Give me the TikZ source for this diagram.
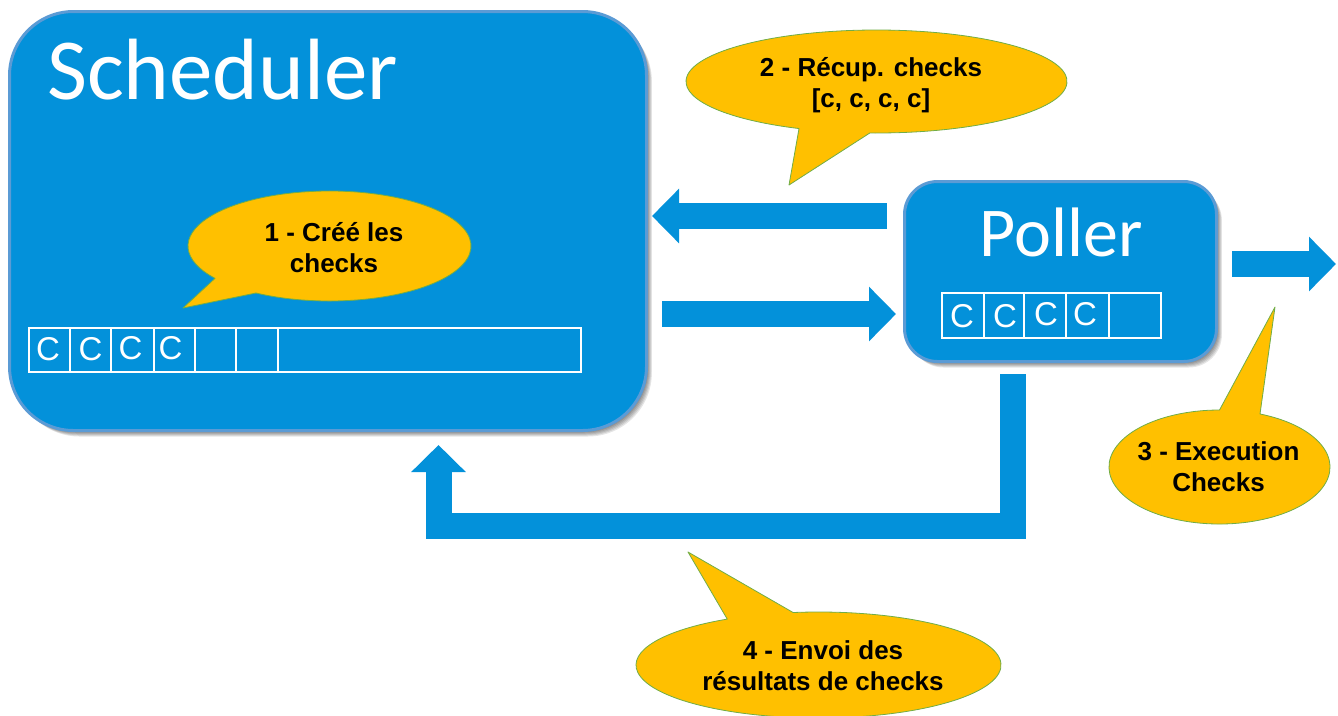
\documentclass[tikz,border=0pt]{standalone}
\usepackage{fontspec}
\setmainfont{Liberation Sans}
\newfontfamily\carl{Carlito}
\usetikzlibrary{arrows.meta}
\definecolor{boxblue}{HTML}{0391DA}
\definecolor{edgeblue}{HTML}{5B9BD5}
\definecolor{bubblefill}{HTML}{FFC000}
\definecolor{bubbleedge}{HTML}{70AD47}
\tikzset{
  panel/.style={draw=edgeblue,fill=boxblue,line width=3pt,anchor=north west,inner sep=0pt,outer sep=0pt},
  shadelayer/.style={fill=black,fill opacity=0.1,draw=none},
  cell/.style={draw=white,line width=2pt,anchor=north west,inner sep=0pt,outer sep=0pt,minimum height=44pt},
  cellc/.style={text=white,inner sep=0pt,font=\fontsize{33}{33}\selectfont},
  bubble/.style={fill=bubblefill,draw=bubbleedge,line width=0.8pt,line join=round},
  bubbletext/.style={align=center,inner sep=0pt,text=black,font=\fontsize{26}{31}\selectfont\bfseries},
  blockarrow/.style={draw=boxblue,line width=26pt,line join=miter,-{Triangle[length=27pt,width=53pt,fill=boxblue]}}
}
\begin{document}
\begin{tikzpicture}[x=1pt,y=-1pt]
\useasboundingbox (0,0) rectangle (1338,715);
% shadows
\foreach \d in {1,2,3,4,5,6}{
  \fill[shadelayer,rounded corners=64pt] (9.5+\d,11.5+\d) rectangle (646.5+\d*0.9,430.5+\d);
  \fill[shadelayer,rounded corners=33pt] (904.5+\d,181.5+\d) rectangle (1216.5+\d*0.9,361.5+\d);
}
% panels
\node[panel,rounded corners=64pt,minimum width=637pt,minimum height=419pt] (sched) at (9.5,11.5) {};
\node[panel,rounded corners=33pt,minimum width=312pt,minimum height=180pt] (poll) at (904.5,181.5) {};
\node[anchor=base west,inner sep=0pt,text=white,font=\carl\fontsize{87}{87}\selectfont] (schedt) at (47,99) {Scheduler};
\node[anchor=base,inner sep=0pt,text=white,font=\carl\fontsize{70}{70}\selectfont] (pollt) at (1061,256) {Poller};
% scheduler queue
\foreach \n/\a/\b in {1/29/69.5,2/69.5/110.5,3/110.5/153.5,4/153.5/195,5/195/236,6/236/278,7/278/581}{
  \pgfmathsetmacro\w{\b-\a}
  \node[cell,minimum width=\w pt] (sq\n) at (\a,328) {};
}
\node[cellc] (sc1) at (48,349) {C};
\node[cellc] (sc2) at (90.5,349) {C};
\node[cellc] (sc3) at (130.5,348) {C};
\node[cellc] (sc4) at (170.5,348) {C};
% poller queue
\foreach \n/\a/\b in {1/942/984,2/984/1024,3/1024/1066,4/1066/1109,5/1109/1161}{
  \pgfmathsetmacro\w{\b-\a}
  \node[cell,minimum width=\w pt,minimum height=45pt] (pq\n) at (\a,293) {};
}
\node[cellc] (pc1) at (962,316) {C};
\node[cellc] (pc2) at (1005,316) {C};
\node[cellc] (pc3) at (1046,314) {C};
\node[cellc] (pc4) at (1085,314) {C};
% connectors
\coordinate (a1s) at (887,216);  \coordinate (a1e) at (652,216);
\coordinate (a2s) at (662,314);  \coordinate (a2e) at (896,314);
\coordinate (a3s) at (1232,264); \coordinate (a3e) at (1336,264);
\coordinate (a4s) at (1013,374); \coordinate (a4m) at (1013,526);
\coordinate (a4n) at (438.5,526); \coordinate (a4e) at (438.5,445);
\draw[blockarrow] (a1s) -- (a1e);
\draw[blockarrow] (a2s) -- (a2e);
\draw[blockarrow] (a3s) -- (a3e);
\draw[blockarrow] (a4s) -- (a4m) -- (a4n) -- (a4e);
% callouts
\coordinate (c1) at (329.5,246);  \coordinate (t1) at (183,308);
\coordinate (c2) at (876.5,81.5); \coordinate (t2) at (789,185);
\coordinate (c3) at (1219.5,467); \coordinate (t3) at (1275,307);
\coordinate (c4) at (818.5,665);  \coordinate (t4) at (688,552);
\draw[bubble] (c1) ++(121.3:141.5 and 55) arc[start angle=121.3,end angle=-216,x radius=141.5,y radius=55] -- (t1) -- cycle;
\draw[bubble] (c2) ++(92:190.5 and 51.5) arc[start angle=92,end angle=-246,x radius=190.5,y radius=51.5] -- (t2) -- cycle;
\draw[bubble] (c3) ++(-68.5:110.5 and 57) arc[start angle=-68.5,end angle=270,x radius=110.5,y radius=57] -- (t3) -- cycle;
\draw[bubble] (c4) ++(-98:182.5 and 53) arc[start angle=-98,end angle=240,x radius=182.5,y radius=53] -- (t4) -- cycle;
\node[bubbletext] (l1) at (334,248) {1 - Créé les\\checks};
\node[bubbletext] (l2) at (871,85) {2 - Récup. checks\\{[c, c, c, c]}};
\node[bubbletext] (l3) at (1218.5,466.5) {3 - Execution\\Checks};
\node[bubbletext] (l4) at (823,665.5) {4 - Envoi des\\résultats de checks};
\end{tikzpicture}
\end{document}
